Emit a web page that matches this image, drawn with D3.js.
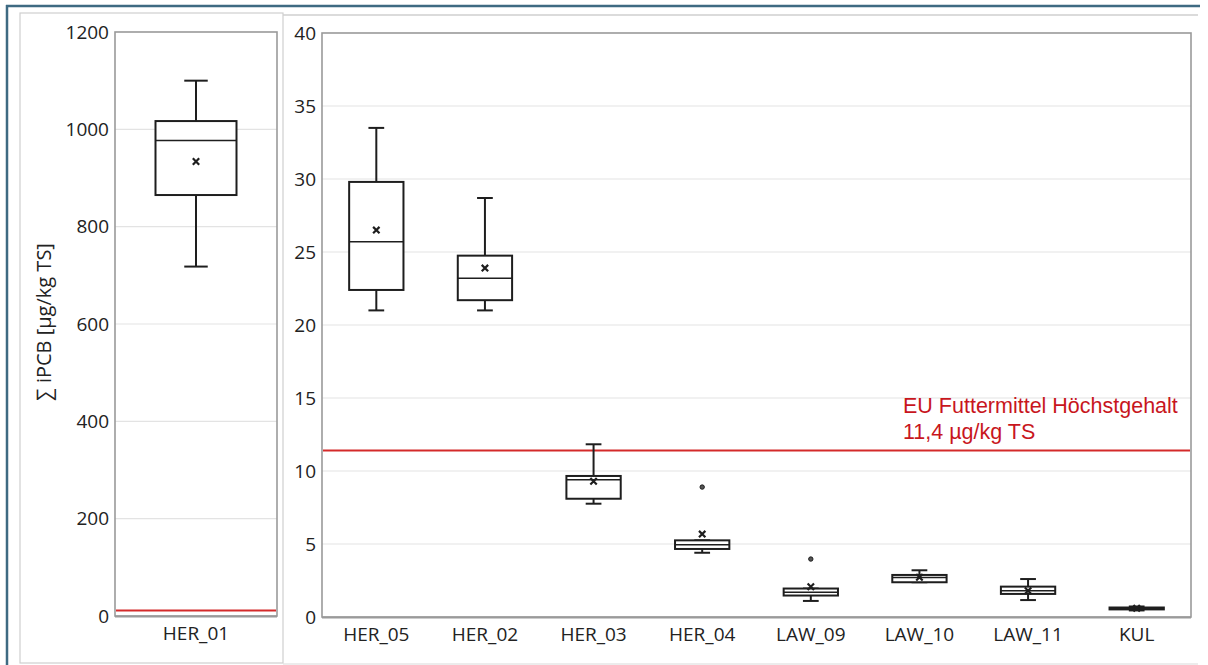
<!DOCTYPE html>
<html><head><meta charset="utf-8">
<script src="https://cdn.jsdelivr.net/npm/d3@7"></script>
<style>
html,body{margin:0;padding:0;background:#fff;}
svg{display:block;}
text{font-family:"Open Sans",sans-serif;fill:#222;}
</style></head>
<body>
<svg id="c" width="1208" height="665"></svg>
<script>
// ---- data ----
const leftCategories = ["HER_01"];
const leftWhiskerLow = [718];
const leftQ1 = [865];
const leftMedian = [977];
const leftQ3 = [1017];
const leftWhiskerHigh = [1100];
const leftMean = [934];
const leftTicks = [0, 200, 400, 600, 800, 1000, 1200];

const categories = ["HER_05","HER_02","HER_03","HER_04","LAW_09","LAW_10","LAW_11","KUL"];
const whiskerLow  = [21.0, 21.0, 7.76, 4.4, 1.1, 2.38, 1.16, 0.45];
const q1          = [22.4, 21.7, 8.1, 4.66, 1.47, 2.38, 1.58, 0.52];
const median      = [25.7, 23.2, 9.4, 4.95, 1.7, 2.7, 1.8, 0.58];
const q3          = [29.8, 24.75, 9.66, 5.25, 1.95, 2.88, 2.08, 0.65];
const whiskerHigh = [33.5, 28.7, 11.83, 5.25, 1.95, 3.2, 2.6, 0.72];
const means       = [26.5, 23.9, 9.3, 5.68, 2.07, 2.72, 1.8, 0.6];
const outliers    = [[], [], [], [8.9], [3.97], [], [], []];
const rightTicks = [0, 5, 10, 15, 20, 25, 30, 35, 40];

const limitValue = 11.4;
const limitLabel = ["EU Futtermittel Höchstgehalt", "11,4 µg/kg TS"];
const yTitle = "∑ iPCB [µg/kg TS]";

// ---- drawing ----
const svg = d3.select("#c");
const teal = "#3e6a82";
const red = "#d42a2a";
const FS = "19px";

// outer frame
svg.append("line").attr("x1",6).attr("x2",1200).attr("y1",6).attr("y2",6).attr("stroke",teal).attr("stroke-width",2.5);
svg.append("line").attr("x1",7).attr("x2",7).attr("y1",5).attr("y2",665).attr("stroke",teal).attr("stroke-width",2.5);
// panel outlines
svg.append("rect").attr("x",20).attr("y",13).attr("width",263).attr("height",650).attr("fill","none").attr("stroke","#cfcfcf").attr("stroke-width",1.2);
svg.append("line").attr("x1",283).attr("x2",1198).attr("y1",15).attr("y2",15).attr("stroke","#cfcfcf").attr("stroke-width",1.5);
svg.append("line").attr("x1",283).attr("x2",1198).attr("y1",664).attr("y2",664).attr("stroke","#d9d9d9").attr("stroke-width",1.2);

function panel(cfg) {
  const g = svg.append("g");
  const {x0, x1, yTop, yBottom, domain, ticks, cats, lo, a, m, b, hi, mn, outs} = cfg;
  const y = d3.scaleLinear().domain(domain).range([yBottom, yTop]);
  const x = d3.scaleBand().domain(cats).range([x0, x1]);
  // gridlines
  g.append("g").selectAll("line").data(ticks.filter(t => t !== domain[0] && t !== domain[1]))
    .join("line").attr("x1", x0).attr("x2", x1).attr("y1", d => y(d)).attr("y2", d => y(d))
    .attr("stroke", "#e3e3e3").attr("stroke-width", 1.2);
  // y axis labels
  const ya = d3.axisLeft(y).tickValues(ticks).tickFormat(d3.format("d")).tickSize(0).tickPadding(6);
  const yg = g.append("g").attr("transform", `translate(${x0},0)`).call(ya);
  yg.select(".domain").remove();
  yg.selectAll("text").style("font-size", FS).style("font-family", "'Open Sans',sans-serif").attr("fill", "#222");
  // x axis labels
  const xa = d3.axisBottom(x).tickSize(0).tickPadding(11);
  const xg = g.append("g").attr("transform", `translate(0,${yBottom})`).call(xa);
  xg.select(".domain").remove();
  xg.selectAll("text").style("font-size", FS).style("font-family", "'Open Sans',sans-serif").attr("fill", "#222");
  // frame
  g.append("rect").attr("x", x0).attr("y", yTop).attr("width", x1 - x0).attr("height", yBottom - yTop)
    .attr("fill", "none").attr("stroke", "#9a9a9a").attr("stroke-width", 1.6);
  g.append("line").attr("x1", x0).attr("x2", x1).attr("y1", yBottom+0.5).attr("y2", yBottom+0.5).attr("stroke", "#9a9a9a").attr("stroke-width", 2.2);
  // limit line
  g.append("line").attr("x1", x0+1).attr("x2", x1-1).attr("y1", y(limitValue)).attr("y2", y(limitValue))
    .attr("stroke", red).attr("stroke-width", 2);
  // boxes
  const bw = x.bandwidth() * 0.5;
  const cw = bw * 0.29;
  const col = "#1e1e1e";
  cats.forEach((c, i) => {
    const cx = x(c) + x.bandwidth() / 2;
    const bg = g.append("g");
    bg.append("line").attr("x1", cx).attr("x2", cx).attr("y1", y(hi[i])).attr("y2", y(b[i])).attr("stroke", col).attr("stroke-width", 2);
    bg.append("line").attr("x1", cx).attr("x2", cx).attr("y1", y(a[i])).attr("y2", y(lo[i])).attr("stroke", col).attr("stroke-width", 2);
    bg.append("line").attr("x1", cx - cw/2).attr("x2", cx + cw/2).attr("y1", y(hi[i])).attr("y2", y(hi[i])).attr("stroke", col).attr("stroke-width", 2);
    bg.append("line").attr("x1", cx - cw/2).attr("x2", cx + cw/2).attr("y1", y(lo[i])).attr("y2", y(lo[i])).attr("stroke", col).attr("stroke-width", 2);
    bg.append("rect").attr("x", cx - bw/2).attr("y", y(b[i])).attr("width", bw).attr("height", Math.max(0.1, y(a[i]) - y(b[i])))
      .attr("fill", "#fff").attr("stroke", col).attr("stroke-width", 2);
    bg.append("line").attr("x1", cx - bw/2).attr("x2", cx + bw/2).attr("y1", y(m[i])).attr("y2", y(m[i])).attr("stroke", col).attr("stroke-width", 1.5);
    const my = y(mn[i]), s = 3.2;
    bg.append("path").attr("d", `M${cx-s},${my-s}L${cx+s},${my+s}M${cx-s},${my+s}L${cx+s},${my-s}`)
      .attr("stroke", col).attr("stroke-width", 2.2).attr("fill", "none");
    (outs[i] || []).forEach(v => {
      bg.append("circle").attr("cx", cx).attr("cy", y(v)).attr("r", 2.2).attr("fill", "#555").attr("stroke", col).attr("stroke-width", 1);
    });
  });
  return {x, y};
}

panel({x0: 115, x1: 277, yTop: 32, yBottom: 616, domain: [0, 1200], ticks: leftTicks,
  cats: leftCategories, lo: leftWhiskerLow, a: leftQ1, m: leftMedian, b: leftQ3, hi: leftWhiskerHigh, mn: leftMean, outs: [[]]});

const R = panel({x0: 322, x1: 1191, yTop: 33, yBottom: 617, domain: [0, 40], ticks: rightTicks,
  cats: categories, lo: whiskerLow, a: q1, m: median, b: q3, hi: whiskerHigh, mn: means, outs: outliers});

// limit annotation
const ann = svg.append("text").attr("x", 903).attr("y", 413)
  .style("font-family", "'Liberation Sans',Arial,sans-serif").style("font-size", "21.5px").style("fill", "#c8161d");
ann.selectAll("tspan").data(limitLabel).join("tspan").attr("x", 903).attr("dy", (d, i) => i === 0 ? 0 : 26).text(d => d);

// y title
svg.append("text").attr("transform", "translate(51,322) rotate(-90)").attr("text-anchor", "middle")
  .style("font-size", "20px").text(yTitle);
</script>
</body></html>
